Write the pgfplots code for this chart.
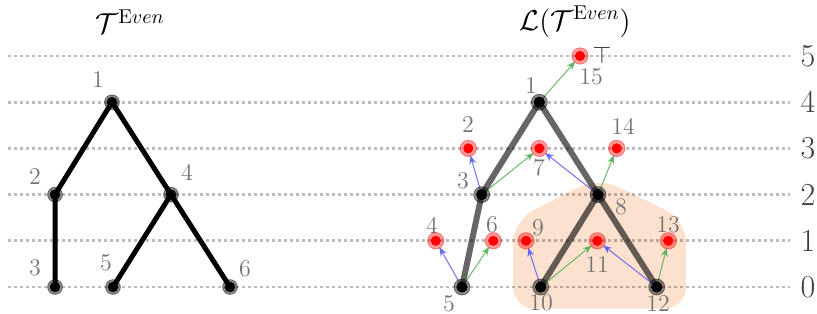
\documentclass[border=0pt]{standalone}
\usepackage{pgfplots}
\pgfplotsset{compat=1.18}
\usetikzlibrary{arrows.meta}
\definecolor{lbl}{gray}{0.45}
\definecolor{blobc}{RGB}{252,226,206}
\definecolor{garrow}{RGB}{80,175,80}
\definecolor{barrow}{RGB}{90,90,245}
\tikzset{
  dots/.style={black, opacity=0.26, line width=1.4pt, dash pattern=on 1.4pt off 1.6pt},
  lab/.style={text=lbl, font=\fontsize{12}{14}\selectfont, inner sep=0pt},
  garr/.style={garrow, opacity=0.8, line width=0.55pt, -{Stealth[length=4.5pt,width=3.5pt,inset=1.5pt]}, shorten >=3.6pt},
  barr/.style={barrow, opacity=0.8, line width=0.55pt, -{Stealth[length=4.5pt,width=3.5pt,inset=1.5pt]}, shorten >=3.6pt},
}
\begin{document}
\begin{tikzpicture}
\begin{axis}[
  scale only axis, width=408.5pt, height=157pt,
  xmin=0, xmax=817, ymin=-0.584, ymax=6.212,
  axis lines=none, ticks=none, clip=false,
]
% highlighted region
\addplot[fill=blobc, draw=none, rounded corners=11pt] coordinates {(598,2.38) (686,1.45) (686,-0.47) (513,-0.47) (513,1.43)} -- cycle;
% dotted level lines
\addplot[dots] coordinates {(8,0) (790,0)};
\addplot[dots] coordinates {(8,1) (790,1)};
\addplot[dots] coordinates {(8,2) (790,2)};
\addplot[dots] coordinates {(8,3) (790,3)};
\addplot[dots] coordinates {(8,4) (790,4)};
\addplot[dots] coordinates {(8,5) (790,5)};
% left tree edges
\addplot[black, line width=2.5pt, line join=round] coordinates {(55,0) (55,2) (112,4) (171,2) (230,0)};
\addplot[black, line width=2.5pt] coordinates {(171,2) (113,0)};
% right tree edges
\addplot[black, opacity=0.6, line width=3pt, line join=round] coordinates {(462,0) (481.7,2) (539.3,4) (598,2) (656.7,0)};
\addplot[black, opacity=0.6, line width=3pt] coordinates {(598,2) (540.7,0)};
% arrows
\addplot[garr] coordinates {(539.3,4) (580,5)};
\addplot[garr] coordinates {(481.7,2) (539.3,3)};
\addplot[garr] coordinates {(462,0) (493.3,1)};
\addplot[garr] coordinates {(540.7,0) (597.3,1)};
\addplot[garr] coordinates {(656.7,0) (668.3,1)};
\addplot[garr] coordinates {(598,2) (616.7,3)};
\addplot[barr] coordinates {(481.7,2) (468.3,3)};
\addplot[barr] coordinates {(598,2) (539.3,3)};
\addplot[barr] coordinates {(462,0) (435.7,1)};
\addplot[barr] coordinates {(540.7,0) (526,1)};
\addplot[barr] coordinates {(656.7,0) (597.3,1)};
% left tree nodes
\addplot[black, opacity=0.45, only marks, mark=*, mark size=3.7pt] coordinates {(112,4) (55,2) (171,2) (55,0) (113,0) (230,0)};
\addplot[black, only marks, mark=*, mark size=2.4pt] coordinates {(112,4) (55,2) (171,2) (55,0) (113,0) (230,0)};
% right tree nodes
\addplot[black, opacity=0.45, only marks, mark=*, mark size=4pt] coordinates {(539.3,4) (481.7,2) (598,2) (462,0) (540.7,0) (656.7,0)};
\addplot[black, only marks, mark=*, mark size=2.6pt] coordinates {(539.3,4) (481.7,2) (598,2) (462,0) (540.7,0) (656.7,0)};
% line-graph extra nodes (red)
\addplot[red, opacity=0.4, only marks, mark=*, mark size=4.1pt] coordinates {(580,5) (468.3,3) (539.3,3) (616.7,3) (435.7,1) (493.3,1) (526,1) (597.3,1) (668.3,1)};
\addplot[red, only marks, mark=*, mark size=2.3pt] coordinates {(580,5) (468.3,3) (539.3,3) (616.7,3) (435.7,1) (493.3,1) (526,1) (597.3,1) (668.3,1)};
% titles
\node[font=\fontsize{14.5}{16}\selectfont] at (axis cs:130,5.74) {$\mathcal{T}^{\mathrm{E}ven}$};
\node[font=\fontsize{14.5}{16}\selectfont] at (axis cs:575,5.74) {$\mathcal{L}(\mathcal{T}^{\mathrm{E}ven})$};
% left labels
\node[lab] at (axis cs:98,4.48) {1};
\node[lab] at (axis cs:35,2.40) {2};
\node[lab] at (axis cs:187,2.47) {4};
\node[lab] at (axis cs:35,0.41) {3};
\node[lab] at (axis cs:106,0.52) {5};
\node[lab] at (axis cs:245,0.39) {6};
% right labels
\node[lab] at (axis cs:531,4.37) {1};
\node[lab] at (axis cs:591,4.55) {15};
\node[inner sep=0pt, text=black!80, font=\fontsize{13}{15}\selectfont] at (axis cs:602,5.02) {$\top$};
\node[lab] at (axis cs:468,3.51) {2};
\node[lab] at (axis cs:623,3.48) {14};
\node[lab] at (axis cs:539,2.58) {7};
\node[lab] at (axis cs:463,2.29) {3};
\node[lab] at (axis cs:621,1.73) {8};
\node[lab] at (axis cs:432,1.34) {4};
\node[lab] at (axis cs:492,1.34) {6};
\node[lab] at (axis cs:538,1.28) {9};
\node[lab] at (axis cs:668,1.34) {13};
\node[lab] at (axis cs:597,0.48) {11};
\node[lab] at (axis cs:449,-0.36) {5};
\node[lab] at (axis cs:541,-0.35) {10};
\node[lab] at (axis cs:658,-0.35) {12};
% level numbers
\node[inner sep=0pt, text=black!75, font=\fontsize{16}{18}\selectfont] at (axis cs:808,0) {0};
\node[inner sep=0pt, text=black!75, font=\fontsize{16}{18}\selectfont] at (axis cs:808,1) {1};
\node[inner sep=0pt, text=black!75, font=\fontsize{16}{18}\selectfont] at (axis cs:808,2) {2};
\node[inner sep=0pt, text=black!75, font=\fontsize{16}{18}\selectfont] at (axis cs:808,3) {3};
\node[inner sep=0pt, text=black!75, font=\fontsize{16}{18}\selectfont] at (axis cs:808,4) {4};
\node[inner sep=0pt, text=black!75, font=\fontsize{16}{18}\selectfont] at (axis cs:808,5) {5};
\end{axis}
\pgfresetboundingbox
\path (current axis.south west) rectangle (current axis.north east);
\end{tikzpicture}
\end{document}
